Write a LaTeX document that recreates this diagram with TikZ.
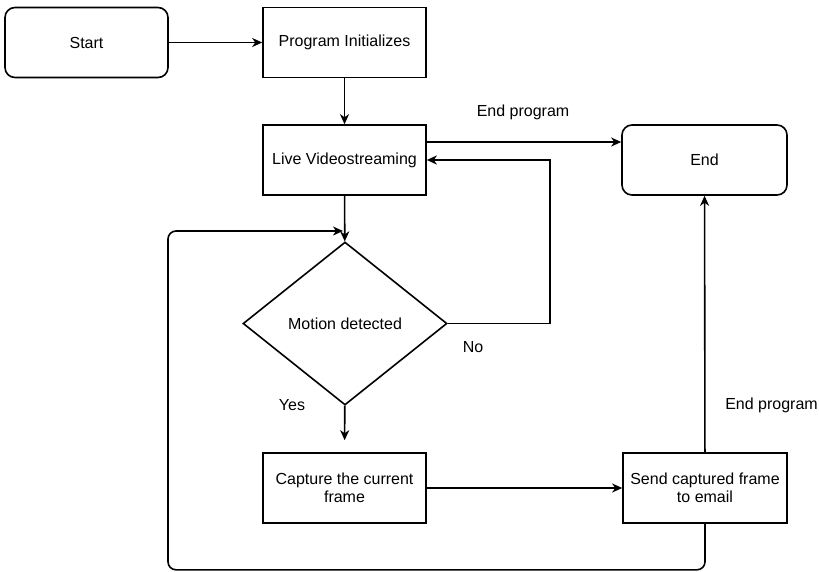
\documentclass[tikz,border=0pt]{standalone}
\usepackage{fontspec}
\setmainfont{Liberation Sans}
\usetikzlibrary{arrows.meta,shapes.geometric}
\tikzset{
	procbox/.style={draw, line width=1.6pt, minimum width=163pt, minimum height=70pt, inner sep=2pt, align=center, font=\fontsize{16}{18}\selectfont},
	termbox/.style={procbox, rounded corners=10pt},
	decbox/.style={draw, diamond, line width=1.6pt, minimum width=204pt, minimum height=163pt, inner sep=0pt, font=\fontsize{16}{18}\selectfont},
	flow/.style={line width=1.6pt, -{Stealth[length=10pt,width=9pt,inset=3pt]}},
	lbl/.style={font=\fontsize{16}{18}\selectfont}
}

\begin{document}
\begin{tikzpicture}[x=1pt,y=-1pt]
			%%%%% START %%%%%
			\useasboundingbox (0,0) rectangle (819,571);
			
			\node[termbox] (start) at (86.5, 42.5) {Start};
			\node[procbox] (prog) at (344.5, 42.5) {Program Initializes};
			\node[procbox] (live) at (344.5, 160) {Live Videostreaming};
			\node[termbox, minimum width=165pt] (end) at (704.5, 160) {End};
			
			\node[decbox] (motion) at (345, 323.5) {Motion detected};
			
			\node[procbox] (capture) at (344.5, 488) {Capture the current\\frame};
			\node[procbox, minimum width=164pt] (send) at (705, 488) {Send captured frame\\to email};
			
			\draw[flow] (start) -- (prog);
			\draw[flow] (prog) -- (live);
			\draw[flow] ([yshift=18pt]live.east) -- ([yshift=18pt]end.west);
			\node[lbl] (lblend) at (523, 112) {End program};
			
			\draw[flow] (live) -- (motion);
			\draw[flow] (motion.east) -- ++(102, 0) |- (live.east);
			\node[lbl] (lblno) at (473, 347) {No};
			
			\draw[flow, shorten >=12pt] (motion) -- (capture);
			\node[lbl] (lblyes) at (292, 405) {Yes};
			
			\draw[flow] (capture) -- (send);
			\draw[flow] (send) -- (end);
			\node[lbl, anchor=east, inner sep=1pt] (lblend2) at (819, 405) {End program};
			
			\coordinate (loopin) at (343, 231);
			\draw[flow, rounded corners=8pt] (send.south) -- ++(0, 46) -| (168, 231) -- (loopin);
			
			%%%%% END %%%%%
\end{tikzpicture}
\end{document}
